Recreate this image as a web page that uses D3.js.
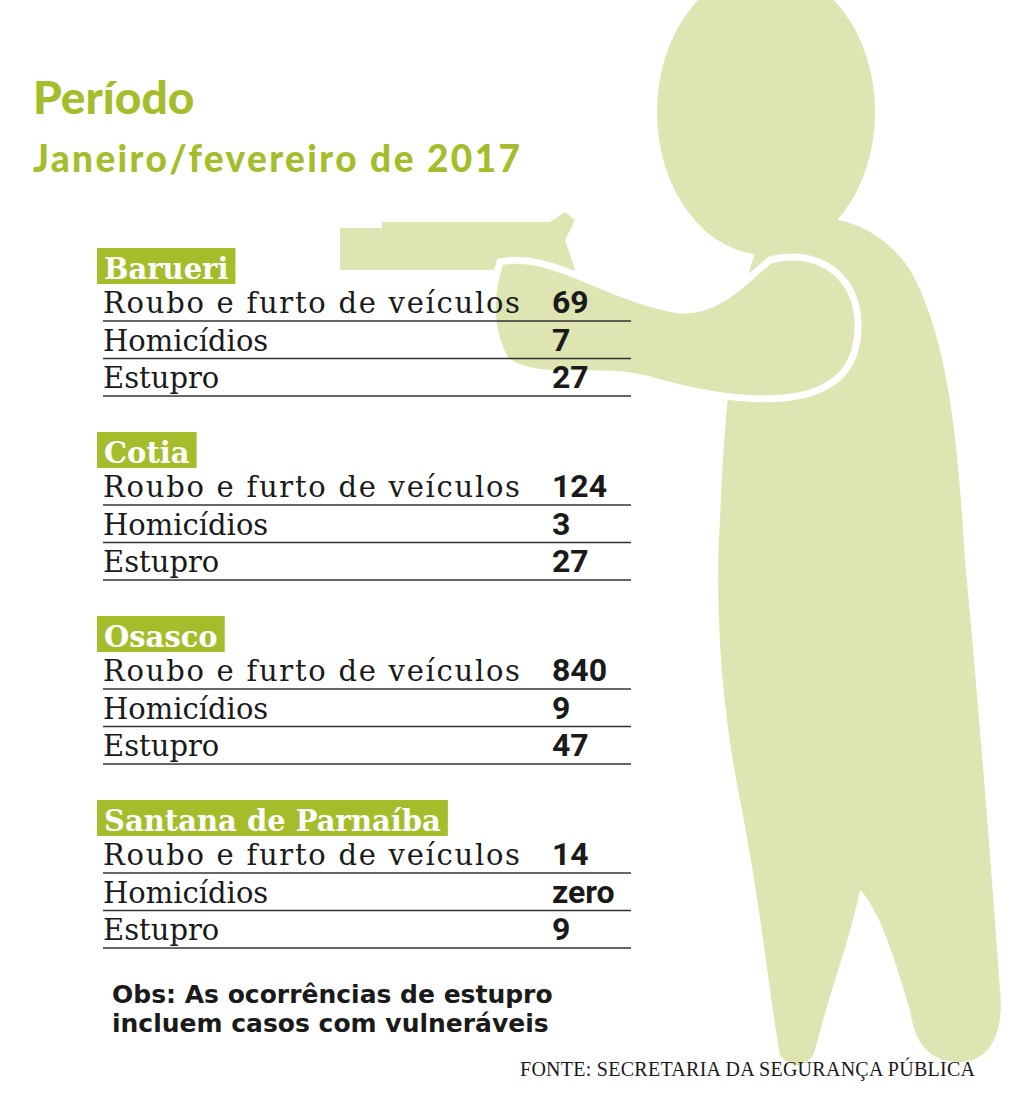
<!DOCTYPE html><html><head><meta charset="utf-8"><script src="https://cdn.jsdelivr.net/npm/d3@7"></script>
<style>body{margin:0;background:#fff}</style></head><body><script>
const cities=["Barueri","Cotia","Osasco","Santana de Parnaíba"];
const crimes=["Roubo e furto de veículos","Homicídios","Estupro"];
const values=[["69","7","27"],["124","3","27"],["840","9","47"],["14","zero","9"]];
const W=1019,H=1098,fig="#dee4b2",green="#a5bd2b";
const svg=d3.select("body").append("svg").attr("width",W).attr("height",H);
const g=svg.append("g");
g.append("ellipse").attr("cx",766).attr("cy",112).attr("rx",109).attr("ry",143).attr("fill",fig);
g.append("path").attr("fill",fig).attr("d","M340,228 L382,228 L382,222 L550,222 L565,212 L575,220 L565,240 L575,270 L340,270 Z");
g.append("path").attr("fill",fig).attr("d","M760,240 C800,205 870,210 910,270 C950,340 958,450 965,560 C978,700 990,850 1000,990 C1005,1040 985,1062 960,1062 C930,1062 915,1045 910,1010 C895,960 880,910 860,890 C850,940 830,990 815,1050 C810,1068 790,1070 780,1055 C770,1000 760,900 740,800 C720,700 715,600 720,520 C725,400 735,300 760,240 Z");
g.append("path").attr("fill",fig).attr("stroke","#fff").attr("stroke-width",7)
 .attr("d","M770,260 C830,245 870,290 855,350 C835,420 720,400 650,380 C590,365 540,385 505,360 C490,330 488,300 500,262 C550,250 610,300 680,310 C720,312 745,280 770,260 Z");
g.append("text").attr("x",33).attr("y",114).text("Período").attr("font-family","Lato").attr("font-weight",900).attr("font-size",46).attr("fill",green);
g.append("text").attr("x",33).attr("y",172).text("Janeiro/fevereiro de 2017").attr("font-family","Lato").attr("font-weight",900).attr("font-size",37).attr("fill",green).attr("textLength",487);
const y0=d3.scaleLinear().domain([0,1]).range([248,432]);
cities.forEach((c,i)=>{
  const top=y0(i), gg=svg.append("g");
  const t=gg.append("text").attr("x",104).attr("y",top+31).text(c).attr("font-family","DejaVu Serif").attr("font-weight","bold").attr("font-size",29).attr("fill","#fff");
  const w=t.node().getComputedTextLength();
  gg.insert("rect","text").attr("x",97).attr("y",top).attr("width",w+14).attr("height",36).attr("fill",green);
  crimes.forEach((k,j)=>{
    const b=top+65+j*37.5;
    gg.append("text").attr("x",103).attr("y",b).text(k).attr("font-family","DejaVu Serif").attr("font-size",29).attr("fill","#1a1a1a").attr("textLength",k.length>20?417:null);
    gg.append("text").attr("x",552).attr("y",b).text(values[i][j]).attr("font-family","Roboto").attr("font-weight","bold").attr("font-size",32).attr("fill","#1a1a1a");
    gg.append("line").attr("x1",103).attr("x2",631).attr("y1",b+8).attr("y2",b+8).attr("stroke","#333").attr("stroke-width",1.3);
  });
});
["Obs: As ocorrências de estupro","incluem casos com vulneráveis"].forEach((s,i)=>
 svg.append("text").attr("x",112).attr("y",1003+i*29).text(s).attr("font-family","DejaVu Sans").attr("font-weight","bold").attr("font-size",25).attr("fill","#1a1a1a"));
svg.append("text").attr("x",975).attr("y",1076).attr("text-anchor","end").text("FONTE: SECRETARIA DA SEGURANÇA PÚBLICA").attr("font-family","Liberation Serif").attr("font-size",20).attr("textLength",455).attr("fill","#1a1a1a");
</script></body></html>
